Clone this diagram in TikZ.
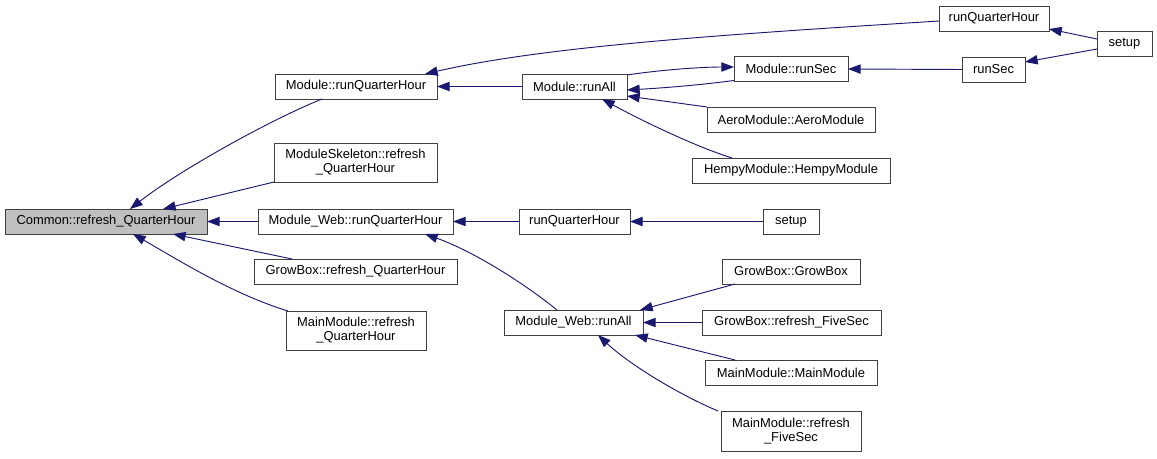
\documentclass[tikz,border=0pt]{standalone}
\usepackage{fontspec}
\setmainfont{Liberation Sans}
\usetikzlibrary{arrows.meta,calc}
\definecolor{edgeblue}{HTML}{191970}
\definecolor{boxline}{HTML}{404040}
\definecolor{hifill}{HTML}{BFBFBF}
\tikzset{
  fn/.style={draw=boxline, line width=0.75pt, fill=white, inner sep=0pt, outer sep=0pt,
    minimum height=18.75pt, align=center, font=\fontsize{9.7}{10.6}\selectfont},
  tall/.style={minimum height=29.25pt},
  cgarrow/.style={draw=edgeblue, line width=0.7pt, arrows={Triangle[length=9.5pt,width=7pt,fill=edgeblue]-}},
}
\begin{document}
\begin{tikzpicture}[x=0.75pt,y=-0.75pt]
\useasboundingbox (0,0) rectangle (1157,458);
% nodes
\node[fn, fill=hifill, minimum width=151.5pt] (common) at (106,221.5) {Common::refresh\_QuarterHour};
\node[fn, minimum width=121.5pt] (mrqh) at (356,86.5) {Module::runQuarterHour};
\node[fn, tall, minimum width=122.25pt] (mskel) at (355.5,162.5) {ModuleSkeleton::refresh\\\_QuarterHour};
\node[fn, minimum width=146.25pt] (mwrqh) at (355.5,221.5) {Module\_Web::runQuarterHour};
\node[fn, minimum width=152.25pt] (gbrqh) at (355.5,271.5) {GrowBox::refresh\_QuarterHour};
\node[fn, tall, minimum width=105pt] (mmrqh) at (356,330.5) {MainModule::refresh\\\_QuarterHour};
\node[fn, minimum width=78.75pt] (mrunall) at (574.5,86.5) {Module::runAll};
\node[fn, minimum width=85.5pt] (mrunsec) at (791,69) {Module::runSec};
\node[fn, minimum width=126pt] (aero) at (791,119.5) {AeroModule::AeroModule};
\node[fn, minimum width=148.5pt] (hempy) at (791,170.5) {HempyModule::HempyModule};
\node[fn, minimum width=82.5pt] (rqhtop) at (994,18.5) {runQuarterHour};
\node[fn, minimum width=41.25pt] (setuptop) at (1124.5,44) {setup};
\node[fn, minimum width=47.25pt] (runsec) at (993.5,69.5) {runSec};
\node[fn, minimum width=83.25pt] (rqhmid) at (574.5,221.5) {runQuarterHour};
\node[fn, minimum width=42pt] (setupmid) at (791,221.5) {setup};
\node[fn, minimum width=104.25pt] (mwrunall) at (573.5,322.5) {Module\_Web::runAll};
\node[fn, minimum width=103.5pt] (gbgb) at (791,271.5) {GrowBox::GrowBox};
\node[fn, minimum width=134.25pt] (gbfs) at (791.5,322.5) {GrowBox::refresh\_FiveSec};
\node[fn, minimum width=129pt] (mmmm) at (791,372.5) {MainModule::MainModule};
\node[fn, minimum width=105pt, minimum height=30pt] (mmfs) at (791,431) {MainModule::refresh\\\_FiveSec};
% edges
\draw[cgarrow] ($(common.north west)+(125,0)$) .. controls (180,170) and (270,120) .. ($(mrqh.south west)+(47,0)$);
\draw[cgarrow] ($(common.north west)+(158,0)$) -- (mskel.south west);
\draw[cgarrow] (common.east) -- (mwrqh.west);
\draw[cgarrow] ($(common.south west)+(168,0)$) -- ($(gbrqh.north west)+(38,0)$);
\draw[cgarrow] ($(common.south west)+(128,0)$) .. controls (175,258) and (232,294) .. ($(mmrqh.north west)+(2,0)$);
\draw[cgarrow] ($(mrqh.north east)+(-12,0)$) .. controls (550,45) and (750,33) .. ($(rqhtop.west)+(0,2.5)$);
\draw[cgarrow] (mrqh.east) -- (mrunall.west);
\draw[cgarrow] ($(mrunall.east)+(0,3.5)$) .. controls (680,87) and (715,83) .. ($(mrunsec.south west)+(0,-1)$);
\draw[cgarrow] ($(mrunsec.west)+(0,-2)$) .. controls (700,67) and (660,70) .. ($(mrunall.north east)+(0,1)$);
\draw[cgarrow] (mrunsec.east) -- (runsec.west);
\draw[cgarrow] ($(mrunall.east)+(0,9.5)$) -- (aero.north west);
\draw[cgarrow] ($(mrunall.south west)+(80,0)$) .. controls (650,125) and (700,148) .. ($(hempy.north west)+(40,0)$);
\draw[cgarrow] ($(rqhtop.south east)+(0,-2)$) -- ($(setuptop.west)+(0,-5)$);
\draw[cgarrow] ($(runsec.east)+(0,-7.5)$) -- ($(setuptop.west)+(0,5)$);
\draw[cgarrow] (mwrqh.east) -- (rqhmid.west);
\draw[cgarrow] (rqhmid.east) -- (setupmid.west);
\draw[cgarrow] ($(mwrqh.south east)+(-28,0)$) .. controls (470,250) and (520,280) .. ($(mwrunall.north west)+(53,0)$);
\draw[cgarrow] ($(mwrunall.north east)+(-3,0)$) -- ($(gbgb.south west)+(13,0)$);
\draw[cgarrow] (mwrunall.east) -- (gbfs.west);
\draw[cgarrow] ($(mwrunall.south east)+(-8,0)$) -- ($(mmmm.north west)+(30,0)$);
\draw[cgarrow] ($(mwrunall.south east)+(-45,0)$) .. controls (630,365) and (680,395) .. ($(mmfs.north west)+(-3,0)$);
\end{tikzpicture}
\end{document}
